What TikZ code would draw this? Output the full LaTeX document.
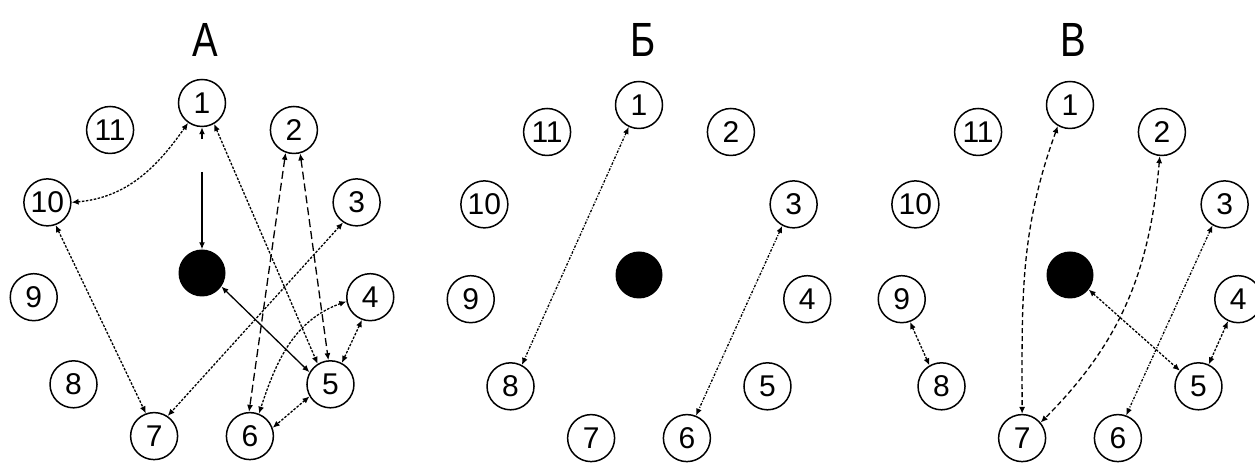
\documentclass[tikz,border=0pt]{standalone}
\usepackage{fontspec}
\setmainfont{Liberation Sans}
\usetikzlibrary{arrows.meta}
\begin{document}
\begin{tikzpicture}[x=1pt,y=1pt,
  num/.style={circle,draw,line width=1.5pt,minimum size=47pt,inner sep=0pt,font=\fontsize{30}{30}\selectfont},
  hub/.style={circle,fill=black,minimum size=47pt,inner sep=0pt},
  ttl/.style={font=\fontsize{48}{48}\selectfont,xscale=0.8},
  lk/.style={line width=1.3pt,{Latex[length=7pt,width=6pt]}-{Latex[length=7pt,width=6pt]}},
  dotl/.style={lk,dash pattern=on 2.5pt off 1.5pt},
  dashl/.style={lk,dash pattern=on 8pt off 4pt},
  meddashl/.style={lk,dash pattern=on 5pt off 3pt},
  dashdotl/.style={lk,dash pattern=on 2.5pt off 1.5pt on 1pt off 1.5pt},
  solidl/.style={lk}
]
\useasboundingbox (0,0) rectangle (1255,465);

% titles
\node[ttl] (tA) at (205,425) {А};
\node[ttl] (tB) at (643,425) {Б};
\node[ttl] (tC) at (1073,425) {В};

% panel A
\begin{scope}[shift={(202,192)}]
  \node[hub] (Ac) at (0,0) {};
  \foreach \k in {1,...,11} \node[num] (A\k) at ({90-(\k-1)*360/11}:170) {\k};
  \coordinate (Am) at (0,101);
\end{scope}
% panel B
\begin{scope}[shift={(639,190)}]
  \node[hub] (Bc) at (0,0) {};
  \foreach \k in {1,...,11} \node[num] (B\k) at ({90-(\k-1)*360/11}:170) {\k};
\end{scope}
% panel C
\begin{scope}[shift={(1070,190)}]
  \node[hub] (Cc) at (0,0) {};
  \foreach \k in {1,...,11} \node[num] (C\k) at ({90-(\k-1)*360/11}:170) {\k};
\end{scope}

% connectors A
\draw[dotl] (A10.east) to[out=5,in=235] (A1.235);
\draw[line width=1.3pt,-{Latex[length=7pt,width=6pt]}] ([yshift=-12pt]A1.south) -- (A1.south);
\draw[line width=1.3pt,-{Latex[length=7pt,width=6pt]}] (Am) -- (Ac);
\draw[dotl] (A1.300) -- (A5.122);
\draw[dashl] (A2.250) -- (A6.92);
\draw[dashl] (A2.285) -- (A5.95);
\draw[dotl] (A3.236) -- (A7.56);
\draw[solidl] (Ac.-35) -- (A5.150);
\draw[dotl] (A4.190) to[out=200,in=72] (A6.68);
\draw[dotl] (A4.250) -- (A5.62);
\draw[dotl] (A5.210) -- (A6.20);
\draw[dotl] (A10.290) -- (A7.110);

% connectors B
\draw[dashdotl] (B1.245) -- (B8.62);
\draw[dashdotl] (B3.242) -- (B6.68);

% connectors C
\draw[meddashl] (C1.240) to[out=250,in=90] (C7.north);
\draw[meddashl] (C2.265) to[out=265,in=45] (C7.40);
\draw[dashdotl] (C3.240) -- (C6.70);
\draw[dotl] (Cc.-38) -- (C5.140);
\draw[dotl] (C4.245) -- (C5.65);
\draw[dotl] (C9.290) -- (C8.120);
\end{tikzpicture}
\end{document}
